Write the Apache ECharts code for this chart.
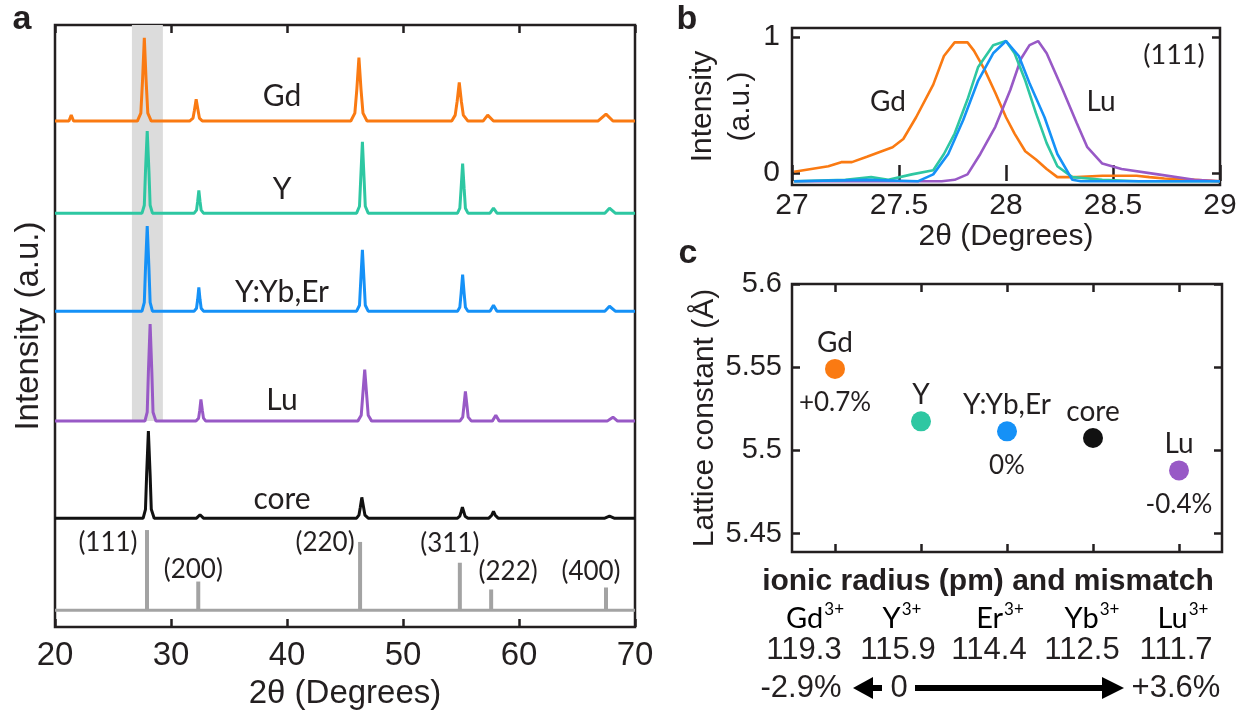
<!DOCTYPE html>
<html><head><meta charset="utf-8">
<script src="https://cdn.jsdelivr.net/npm/echarts@6/dist/echarts.min.js"></script>
<style>html,body{margin:0;padding:0;background:#fff}#chart{width:1240px;height:715px}</style>
</head><body><div id="chart"></div>
<script>
// ===== Panel a: XRD patterns, [2θ (deg), intensity (a.u.)] =====
const gdPattern = [
  [20,0],[21.2,0],[21.4,6],[21.6,0],
  [27.1,0],[27.4,8],[27.55,42],[27.7,84],[27.85,42],[28.0,8],[28.3,0],
  [31.6,0],[31.9,3],[32.02,11],[32.17,22],[32.33,11],[32.45,3],[32.7,0],
  [45.5,0],[45.85,8],[46.02,32],[46.2,64],[46.38,32],[46.55,8],[46.9,0],
  [54.2,0],[54.5,6],[54.67,20],[54.85,39],[55.03,20],[55.2,6],[55.6,0],
  [56.9,0],[57.3,6],[57.8,0],
  [66.8,0],[67.5,7],[68.1,0],
  [70,0]
];
const yPattern = [
  [20,0],[27.5,0],[27.7,8],[27.8,42],[27.95,83],[28.1,42],[28.2,8],[28.4,0],
  [32.0,0],[32.2,3],[32.3,12],[32.4,23],[32.5,12],[32.6,3],[32.8,0],
  [46.0,0],[46.25,7],[46.36,36],[46.5,72],[46.64,36],[46.75,7],[47.0,0],
  [54.7,0],[54.9,5],[55.01,25],[55.14,50],[55.27,25],[55.38,5],[55.6,0],
  [57.5,0],[57.8,5],[58.1,0],
  [67.4,0],[67.8,5],[68.3,0],
  [70,0]
];
const ybErPattern = [
  [20,0],[27.5,0],[27.7,9],[27.8,43],[27.95,86],[28.1,43],[28.2,9],[28.4,0],
  [32.0,0],[32.2,3],[32.3,12],[32.4,24],[32.5,12],[32.6,3],[32.8,0],
  [46.0,0],[46.25,6],[46.36,31],[46.5,62],[46.64,31],[46.75,6],[47.0,0],
  [54.7,0],[54.9,4],[55.01,18],[55.14,37],[55.27,18],[55.38,4],[55.6,0],
  [57.5,0],[57.8,6],[58.1,0],
  [67.4,0],[67.8,5],[68.3,0],
  [70,0]
];
const luPattern = [
  [20,0],[27.75,0],[27.95,9],[28.05,49],[28.2,98],[28.35,49],[28.45,9],[28.7,0],
  [32.15,0],[32.38,3],[32.48,11],[32.58,22],[32.7,11],[32.8,3],[33.0,0],
  [46.1,0],[46.4,6],[46.53,26],[46.7,52],[46.87,26],[47.0,6],[47.3,0],
  [54.9,0],[55.15,4],[55.25,15],[55.38,30],[55.52,15],[55.62,4],[55.9,0],
  [57.7,0],[58.0,6],[58.3,0],
  [67.6,0],[68.1,4],[68.5,0],
  [70,0]
];
const corePattern = [
  [20,0],[27.6,0],[27.8,9],[27.9,44],[28.05,88],[28.2,44],[28.3,9],[28.55,0],
  [32.2,0],[32.5,3.5],[32.8,0],
  [46.0,0],[46.2,3],[46.32,11],[46.45,21],[46.6,11],[46.72,3],[47.0,0],
  [54.7,0],[54.9,2],[55.0,6],[55.12,11],[55.25,6],[55.35,2],[55.6,0],
  [57.4,0],[57.65,3],[57.8,7],[57.95,3],[58.2,0],
  [67.4,0],[67.8,2],[68.2,0],
  [70,0]
];
const traceNames = ['Gd', 'Y', 'Y:Yb,Er', 'Lu', 'core'];
const traceOffsets = [511, 418, 319, 208, 110];
const refPeaks = [27.93, 32.35, 46.3, 54.9, 57.6, 67.5];
const refIntensity = [81, 29, 69, 48, 21, 23];
const refLabels = ['(111)', '(200)', '(220)', '(311)', '(222)', '(400)'];
const refBase = 17;
const bandRange = [26.63, 29.3];

// ===== Panel b: (111) peak, normalized intensity =====
const gd111 = [[27.01,0.01],[27.17,0.05],[27.23,0.08],[27.28,0.08],[27.35,0.12],[27.47,0.19],[27.52,0.25],[27.58,0.41],[27.66,0.65],[27.71,0.86],[27.76,0.96],[27.82,0.96],[27.85,0.90],[27.90,0.76],[27.95,0.59],[28.00,0.41],[28.04,0.29],[28.09,0.16],[28.14,0.10],[28.19,0.03],[28.24,-0.03],[28.33,-0.03],[28.45,-0.02],[28.61,-0.02],[28.67,-0.03],[28.74,-0.04],[28.88,-0.05],[29.00,-0.06]];
const y111 = [[27.01,-0.06],[27.25,-0.05],[27.37,-0.03],[27.45,-0.05],[27.56,-0.01],[27.66,0.02],[27.71,0.14],[27.76,0.29],[27.82,0.54],[27.87,0.78],[27.94,0.94],[28.00,0.97],[28.04,0.88],[28.09,0.68],[28.14,0.44],[28.19,0.22],[28.24,0.05],[28.31,-0.03],[28.45,-0.05],[28.62,-0.06],[29.00,-0.06]];
const ybEr111 = [[27.01,-0.06],[27.35,-0.05],[27.59,-0.06],[27.66,-0.01],[27.73,0.14],[27.80,0.39],[27.87,0.68],[27.94,0.88],[28.00,0.97],[28.06,0.86],[28.11,0.66],[28.18,0.41],[28.24,0.14],[28.31,-0.05],[28.35,-0.06],[29.00,-0.06]];
const lu111 = [[27.01,-0.06],[27.70,-0.06],[27.76,-0.05],[27.82,-0.01],[27.88,0.14],[27.95,0.34],[28.02,0.61],[28.07,0.84],[28.11,0.94],[28.15,0.97],[28.19,0.88],[28.26,0.63],[28.33,0.37],[28.38,0.19],[28.45,0.07],[28.54,0.03],[28.71,-0.01],[28.88,-0.05],[29.00,-0.06]];

// ===== Panel c: lattice constants =====
const samples = ['Gd', 'Y', 'Y:Yb,Er', 'core', 'Lu'];
const latticeConst = [5.549, 5.5175, 5.5115, 5.5075, 5.488];
const mismatch = ['+0.7%', '', '0%', '', '-0.4%'];
const latticeTicks = [5.45, 5.5, 5.55, 5.6];
const ions = ['Gd', 'Y', 'Er', 'Yb', 'Lu'];
const ionicRadius = ['119.3', '115.9', '114.4', '112.5', '111.7'];

// ===== styles =====
const C = { gd:'#FA7A12', y:'#2EC7A2', ybEr:'#1591F7', lu:'#9859C6', core:'#111111', ink:'#231F20', ref:'#A3A3A3', band:'#DCDCDC' };
const traceColors = [C.gd, C.y, C.ybEr, C.lu, C.core];
const sampleColors = [C.gd, C.y, C.ybEr, C.core, C.lu];
const FA = "'Liberation Sans', Arial, Helvetica, sans-serif";
const FL = "Lato, 'Open Sans', sans-serif";
const refLabelOffset = [[-39,13],[-5,-12],[-35,1],[-10,-19],[17,-18],[-15,-16]];

const tick = { inside:true, length:8, lineStyle:{ color:C.ink, width:2.5 } };
const gridStyle = { show:true, borderColor:C.ink, borderWidth:2.5, backgroundColor:'transparent' };
const lbl = (size, margin) => ({ fontSize:size, color:C.ink, fontFamily:FA, margin:margin });
const nameStyle = (size, extra) => Object.assign({ fontSize:size, color:C.ink, fontFamily:FA }, extra || {});

const patterns = [gdPattern, yPattern, ybErPattern, luPattern, corePattern];
const series = [];

// reference baseline + highlight band
series.push({
  type:'line', xAxisIndex:0, yAxisIndex:0, z:1, symbol:'none', silent:true,
  data:[[20, refBase],[70, refBase]],
  lineStyle:{ color:C.ref, width:3 },
  markArea:{ silent:true, itemStyle:{ color:C.band }, data:[[{ coord:[bandRange[0], traceOffsets[3]] }, { coord:[bandRange[1], 608] }]] }
});
// reference sticks
series.push({
  type:'custom', xAxisIndex:0, yAxisIndex:0, z:2, silent:true,
  data: refPeaks.map((x,i) => [x, refIntensity[i]]),
  renderItem: (params, api) => {
    const x = api.value(0), h = api.value(1);
    const p0 = api.coord([x, refBase]), p1 = api.coord([x, refBase + h]);
    const o = refLabelOffset[params.dataIndex];
    return { type:'group', children:[
      { type:'line', shape:{ x1:p0[0], y1:p0[1], x2:p1[0], y2:p1[1] }, style:{ stroke:C.ref, lineWidth:4 } },
      { type:'text', x:p1[0] + o[0], y:p1[1] + o[1], style:{ text:refLabels[params.dataIndex], fill:C.ink, font:'26px ' + FL, align:'center', verticalAlign:'middle' } }
    ]};
  }
});
patterns.forEach((pat, i) => {
  series.push({
    type:'line', name:traceNames[i], xAxisIndex:0, yAxisIndex:0, z:3, symbol:'none', silent:true,
    data: pat.map(p => [p[0], p[1] + traceOffsets[i]]),
    lineStyle:{ color:traceColors[i], width:3 }
  });
});
// panel b
[[gd111, C.gd], [lu111, C.lu], [y111, C.y], [ybEr111, C.ybEr]].forEach(([d, col]) => {
  series.push({ type:'line', xAxisIndex:2, yAxisIndex:1, symbol:'none', silent:true, data:d, lineStyle:{ color:col, width:2.6 } });
});
// panel c
series.push({
  type:'scatter', xAxisIndex:4, yAxisIndex:3, symbolSize:20, silent:true, z:3,
  itemStyle:{ opacity:1 },
  data: latticeConst.map((v,i) => ({ value:[i+1, v], itemStyle:{ color:sampleColors[i], opacity:1 } })),
  label:{ show:true, position:'inside', offset:[0,-26], formatter:p => samples[p.dataIndex], fontSize:28, fontFamily:FL, color:C.ink, opacity:1 }
});
series.push({
  type:'scatter', xAxisIndex:4, yAxisIndex:3, symbolSize:0, silent:true, z:3,
  itemStyle:{ opacity:1 },
  data: latticeConst.map((v,i) => [i+1, v]),
  label:{ show:true, position:'inside', offset:[0,34], formatter:p => mismatch[p.dataIndex], fontSize:26, fontFamily:FL, color:C.ink, opacity:1 }
});

// annotations
const graphic = [];
const txt = (text, x, y, font, extra) => graphic.push({ type:'text', x, y, silent:true,
  style:Object.assign({ text, font, fill:C.ink, align:'center', verticalAlign:'middle' }, extra || {}) });
txt('a', 22, 20, 'bold 34px ' + FA);
txt('b', 687, 20, 'bold 34px ' + FA);
txt('c', 688, 254, 'bold 34px ' + FA);
const traceLabelY = [96, 189, 292, 400, 499];
traceNames.forEach((n,i) => txt(n, 282, traceLabelY[i], '30px ' + FL));
txt('Gd', 888, 102, '28px ' + FL);
txt('Lu', 1101, 102, '28px ' + FL);
txt('(111)', 1174, 55, '27px ' + FL);
txt('ionic radius (pm) and mismatch', 988, 582, 'bold 30px ' + FA);
const ionX = [815, 902, 1000, 1092, 1183];
const radX = [804, 898, 989, 1082, 1176];
ions.forEach((n,i) => graphic.push({ type:'text', x:ionX[i], y:617, silent:true, style:{
  text:'{m|' + n + '}{s|3+}', align:'center', verticalAlign:'middle',
  rich:{ m:{ fontSize:29, fontFamily:FL, color:C.ink, lineHeight:32, verticalAlign:'bottom' }, s:{ fontSize:17, fontFamily:FL, color:C.ink, lineHeight:32, verticalAlign:'top', padding:[0,0,8,1] } } } }));
ionicRadius.forEach((r,i) => txt(r, radX[i], 650, '31px ' + FA));
txt('-2.9%', 801, 688, '31px ' + FA);
txt('0', 899, 688, '31px ' + FA);
txt('+3.6%', 1176, 688, '31px ' + FA);
graphic.push({ type:'line', silent:true, shape:{ x1:868, y1:688, x2:882, y2:688 }, style:{ stroke:'#000', lineWidth:6 } });
graphic.push({ type:'polygon', silent:true, shape:{ points:[[853,688],[873,677],[873,699]] }, style:{ fill:'#000' } });
graphic.push({ type:'line', silent:true, shape:{ x1:915, y1:688, x2:1106, y2:688 }, style:{ stroke:'#000', lineWidth:6 } });
graphic.push({ type:'polygon', silent:true, shape:{ points:[[1124,688],[1102,677],[1102,699]] }, style:{ fill:'#000' } });

const option = {
  animation:false,
  backgroundColor:'#fff',
  grid:[
    Object.assign({ left:55, top:25, width:580, height:608 }, gridStyle),
    Object.assign({ left:792, top:28, width:428, height:157 }, gridStyle),
    Object.assign({ left:792, top:284, width:430, height:268 }, gridStyle)
  ],
  xAxis:[
    { gridIndex:0, type:'value', min:20, max:70, interval:10, position:'bottom', axisLine:{show:false}, splitLine:{show:false}, axisTick:tick,
      axisLabel:lbl(33, 12), name:'2θ (Degrees)', nameLocation:'middle', nameGap:48, nameTextStyle:nameStyle(33) },
    { gridIndex:0, type:'value', min:20, max:70, interval:10, position:'top', axisLine:{show:false}, splitLine:{show:false}, axisTick:tick, axisLabel:{show:false} },
    { gridIndex:1, type:'value', min:27, max:29, interval:0.5, position:'bottom', axisLine:{show:false}, splitLine:{show:false}, axisTick:tick,
      axisLabel:lbl(30, 6), name:'2θ (Degrees)', nameLocation:'middle', nameGap:32, nameTextStyle:nameStyle(30) },
    { gridIndex:1, type:'value', min:27, max:29, interval:0.5, position:'top', axisLine:{show:false}, splitLine:{show:false}, axisTick:tick, axisLabel:{show:false} },
    { gridIndex:2, type:'value', min:0.5, max:5.5, position:'bottom', axisLine:{show:false}, splitLine:{show:false},
      axisTick:Object.assign({ customValues:[1,2,3,4,5] }, tick), axisLabel:{show:false} },
    { gridIndex:2, type:'value', min:0.5, max:5.5, position:'top', axisLine:{show:false}, splitLine:{show:false},
      axisTick:Object.assign({ customValues:[1,2,3,4,5] }, tick), axisLabel:{show:false} }
  ],
  yAxis:[
    { gridIndex:0, type:'value', min:0, max:608, axisLine:{show:false}, axisTick:{show:false}, axisLabel:{show:false}, splitLine:{show:false},
      name:'Intensity (a.u.)', nameLocation:'middle', nameGap:10, nameTextStyle:nameStyle(33) },
    { gridIndex:1, type:'value', min:-0.088, max:1.066, position:'left', axisLine:{show:false}, splitLine:{show:false},
      axisTick:Object.assign({ customValues:[0,1] }, tick), axisLabel:Object.assign({ customValues:[0,1] }, lbl(30, 12)),
      name:'Intensity\n(a.u.)', nameLocation:'middle', nameGap:29, nameTextStyle:nameStyle(30, { lineHeight:38 }) },
    { gridIndex:1, type:'value', min:-0.088, max:1.066, position:'right', axisLine:{show:false}, splitLine:{show:false},
      axisTick:Object.assign({ customValues:[0,1] }, tick), axisLabel:{show:false} },
    { gridIndex:2, type:'value', min:5.439, max:5.6, position:'left', axisLine:{show:false}, splitLine:{show:false},
      axisTick:Object.assign({ customValues:latticeTicks }, tick), axisLabel:Object.assign({ customValues:latticeTicks }, lbl(29, 10)),
      name:'Lattice constant (Å)', nameLocation:'middle', nameGap:72, nameTextStyle:nameStyle(30) },
    { gridIndex:2, type:'value', min:5.439, max:5.6, position:'right', axisLine:{show:false}, splitLine:{show:false},
      axisTick:Object.assign({ customValues:latticeTicks }, tick), axisLabel:{show:false} }
  ],
  series,
  graphic
};
const chart = echarts.init(document.getElementById('chart'), null, { renderer:'canvas' });
chart.setOption(option);
</script>
</body></html>
